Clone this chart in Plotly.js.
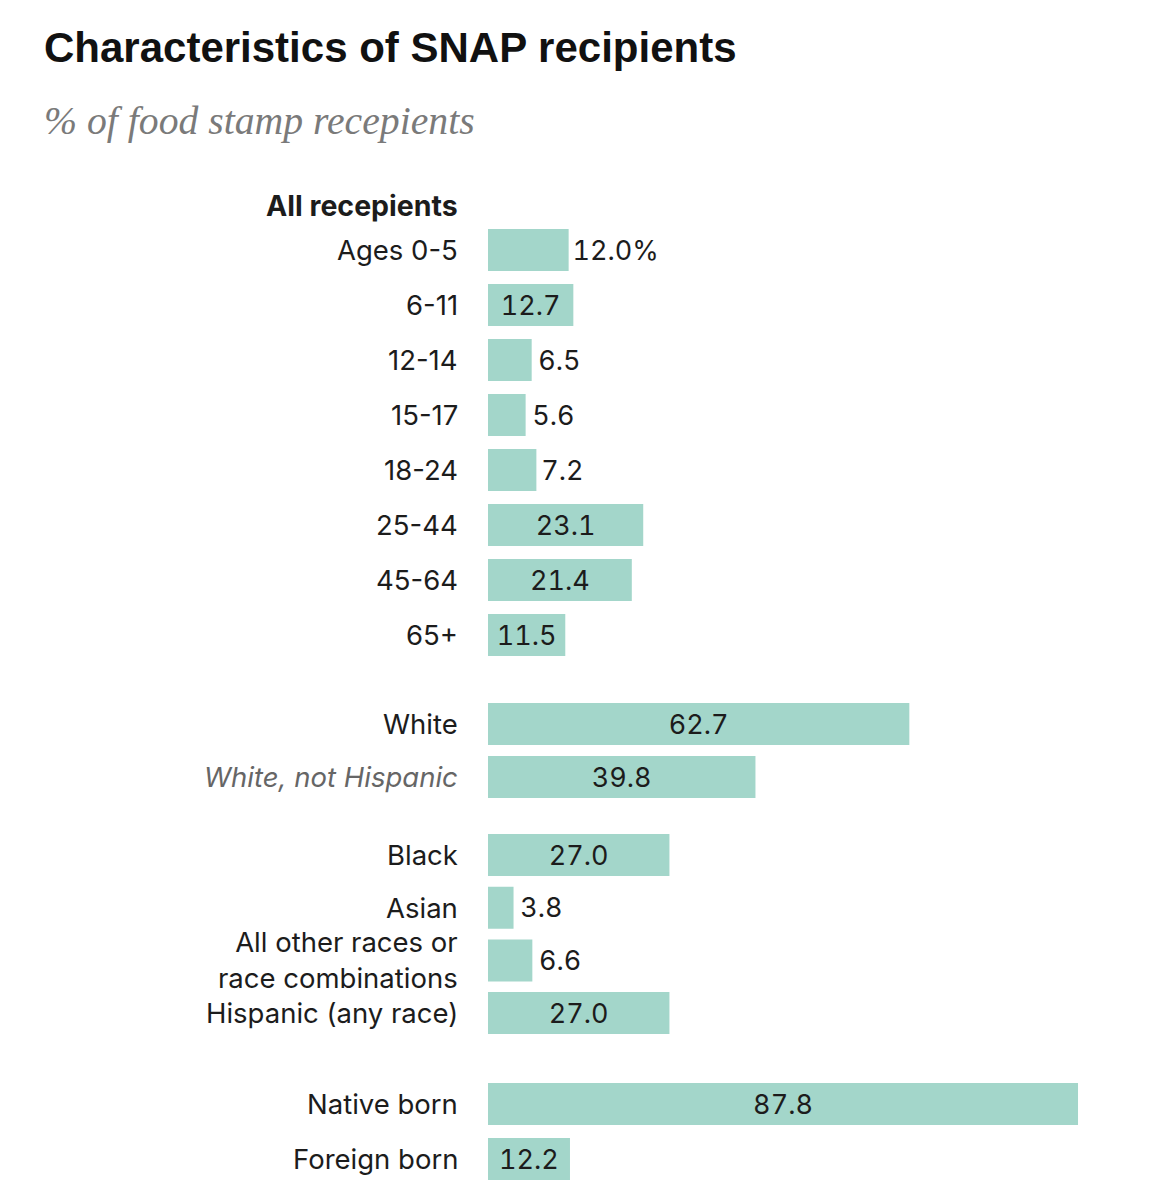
<!DOCTYPE html>
<html>
<head>
<meta charset="utf-8">
<script src="https://cdn.plot.ly/plotly-3.0.1.min.js"></script>
<style>
  html, body { margin: 0; padding: 0; background: #ffffff; }
  #chart { width: 1161px; height: 1200px; }
  /* wide figures for the value labels on the bars */
  #chart text.bartext { font-variant-numeric: tabular-nums; font-feature-settings: "tnum" 1; }
</style>
</head>
<body>
<div id="chart"></div>
<script>
// Share of SNAP recipients, in percent
const ageLabels = ["Ages 0-5", "6-11", "12-14", "15-17", "18-24", "25-44", "45-64", "65+"];
const ageValues = [12.0, 12.7, 6.5, 5.6, 7.2, 23.1, 21.4, 11.5];

const whiteLabels = ["White", "<i>White, not Hispanic</i>"];
const whiteValues = [62.7, 39.8];

const raceLabels = ["Black", "Asian", "All other races or<br>race combinations", "Hispanic (any race)"];
const raceValues = [27.0, 3.8, 6.6, 27.0];

const birthLabels = ["Native born", "Foreign born"];
const birthValues = [87.8, 12.2];

const headerText = "All recepients";
const titleText = "Characteristics of SNAP recipients";
const subtitleText = "% of food stamp recepients";

// Row layout: each block has its own first-row position and row pitch (y axis runs in pixels)
const blocks = [
  { labels: ageLabels,   values: ageValues,   start: 250, step: 55 },
  { labels: whiteLabels, values: whiteValues, start: 724, step: 53 },
  { labels: raceLabels,  values: raceValues,  start: 855, step: 52.7 },
  { labels: birthLabels, values: birthValues, start: 1104, step: 55 }
];

const labels = [], values = [], ypos = [];
blocks.forEach(b => {
  b.labels.forEach((l, i) => {
    labels.push(l);
    values.push(b.values[i]);
    ypos.push(b.start + i * b.step);
  });
});

const valueText = values.map((v, i) => v.toFixed(1) + (i === 0 ? "%" : ""));
const textPos = values.map((v, i) => (v < 10 || i === 0) ? "outside" : "inside");

const FONT = "Inter, 'Open Sans', sans-serif";
const INK = "#1c1c1c";
const BAR = "#a3d6ca";

const trace = {
  type: "bar",
  orientation: "h",
  x: values,
  y: ypos,
  width: 42,
  marker: { color: BAR, line: { width: 0 } },
  text: valueText.map((t, i) => textPos[i] === "outside" ? "\u2009" + t : t),
  textposition: textPos,
  insidetextanchor: "middle",
  constraintext: "none",
  cliponaxis: false,
  textfont: { family: FONT, size: 27, color: INK },
  insidetextfont: { family: FONT, size: 27, color: INK },
  outsidetextfont: { family: FONT, size: 27, color: INK },
  hoverinfo: "skip"
};

const annotations = labels.map((l, i) => ({
  xref: "x", yref: "y",
  x: 0, y: ypos[i],
  xanchor: "right", yanchor: "middle",
  xshift: -28,
  text: l,
  showarrow: false,
  align: "right",
  font: { family: FONT, size: 27.5, color: l.startsWith("<i>") ? "#666666" : INK }
}));

annotations.push({
  xref: "x", yref: "y",
  x: 0, y: 205,
  xanchor: "right", yanchor: "middle",
  xshift: -28,
  text: "<b>" + headerText + "</b>",
  showarrow: false,
  font: { family: FONT, size: 28.5, color: INK }
});

annotations.push({
  xref: "paper", yref: "paper",
  x: -488 / 672 + 42 / 672, y: 1 - 47 / 1200,
  xanchor: "left", yanchor: "middle",
  text: "<b>" + titleText + "</b>",
  showarrow: false,
  font: { family: "'Liberation Sans', Arial, sans-serif", size: 42, color: "#111111" }
});

annotations.push({
  xref: "paper", yref: "paper",
  x: -488 / 672 + 42 / 672, y: 1 - 121 / 1200,
  xanchor: "left", yanchor: "middle",
  text: "<i>" + subtitleText + "</i>",
  showarrow: false,
  font: { family: "'Liberation Serif', 'DejaVu Serif', serif", size: 39.7, color: "#7a7a7a" }
});

const layout = {
  width: 1161,
  height: 1200,
  margin: { l: 488, r: 1, t: 0, b: 0, pad: 0 },
  paper_bgcolor: "#ffffff",
  plot_bgcolor: "#ffffff",
  showlegend: false,
  uniformtext: { mode: "show", minsize: 27 },
  xaxis: { range: [0, 100], visible: false, fixedrange: true },
  yaxis: { range: [1200, 0], visible: false, fixedrange: true },
  annotations: annotations
};

Plotly.newPlot("chart", [trace], layout, { displayModeBar: false, staticPlot: true });
</script>
</body>
</html>
